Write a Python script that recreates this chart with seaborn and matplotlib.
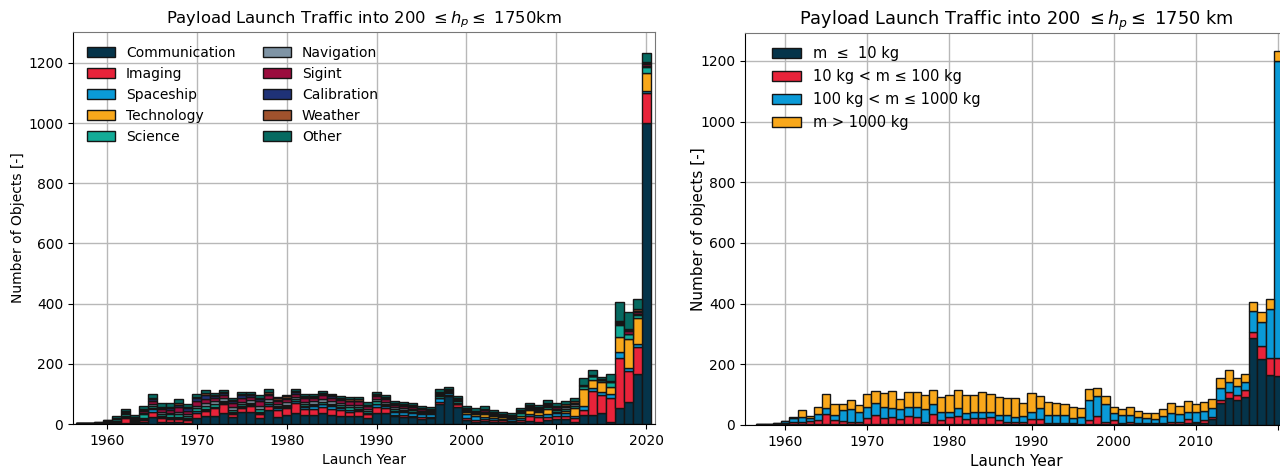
import matplotlib
matplotlib.use("Agg")
import matplotlib.pyplot as plt
import pandas as pd
import seaborn as sns
from matplotlib.patches import Patch

years = list(range(1957, 2021))

mission_names = ["Communication", "Imaging", "Spaceship", "Technology", "Science",
                 "Navigation", "Sigint", "Calibration", "Weather", "Other"]
mission_colors = ["#05344a", "#e8233a", "#0a9ad7", "#f9a81b", "#12ab97",
                  "#7f94a5", "#9b0d3e", "#1f3277", "#a0522d", "#066a61"]

communication = [0, 0, 0, 2, 2, 4, 3, 6, 24, 8,
                 6, 6, 4, 19, 27, 28, 36, 22, 39, 41,
                 19, 47, 24, 30, 36, 30, 30, 35, 30, 28,
                 25, 28, 20, 38, 38, 25, 24, 22, 18, 20,
                 65, 92, 55, 12, 8, 10, 8, 6, 6, 8,
                 10, 8, 12, 15, 16, 8, 30, 30, 35, 8,
                 54, 74, 165, 1001]
imaging = [0, 0, 1, 2, 4, 16, 4, 8, 17, 12,
           9, 10, 10, 19, 17, 24, 30, 10, 13, 19,
           14, 13, 22, 22, 33, 20, 20, 20, 20, 18,
           15, 14, 12, 18, 14, 6, 6, 5, 5, 3,
           9, 4, 10, 8, 4, 8, 6, 6, 5, 6,
           15, 15, 12, 10, 10, 12, 17, 80, 63, 80,
           166, 103, 92, 100]
spaceship = [0, 0, 0, 1, 2, 3, 2, 3, 8, 4,
             5, 4, 4, 4, 4, 4, 4, 6, 5, 4,
             5, 5, 7, 5, 6, 8, 10, 10, 10, 8,
             6, 5, 4, 10, 8, 10, 10, 10, 10, 10,
             11, 8, 3, 12, 15, 6, 5, 5, 4, 5,
             8, 8, 10, 10, 10, 8, 12, 10, 10, 12,
             18, 10, 8, 7]
technology = [1, 1, 1, 2, 3, 4, 3, 3, 3, 2,
              3, 3, 2, 2, 3, 2, 2, 2, 2, 2,
              2, 3, 2, 2, 2, 2, 2, 2, 2, 2,
              2, 2, 2, 2, 2, 2, 2, 4, 2, 2,
              2, 2, 2, 8, 5, 8, 7, 5, 4, 6,
              12, 8, 15, 6, 8, 25, 58, 27, 30, 24,
              52, 97, 86, 58]
science = [1, 2, 2, 2, 4, 6, 4, 12, 8, 7,
           9, 10, 8, 9, 10, 9, 6, 7, 7, 5,
           10, 6, 5, 5, 6, 5, 5, 6, 6, 6,
           7, 6, 5, 7, 6, 6, 5, 5, 4, 4,
           6, 3, 6, 4, 3, 6, 4, 3, 3, 12,
           6, 5, 6, 5, 7, 8, 10, 12, 7, 16,
           38, 14, 11, 22]
navigation = [0, 0, 0, 1, 2, 3, 3, 5, 8, 6,
              6, 8, 6, 8, 8, 8, 7, 8, 8, 8,
              10, 8, 6, 8, 8, 8, 8, 10, 8, 8,
              8, 8, 6, 7, 6, 6, 6, 5, 5, 4,
              3, 2, 3, 2, 2, 3, 2, 2, 2, 2,
              3, 3, 4, 4, 4, 4, 0, 0, 0, 0,
              3, 2, 3, 2]
sigint = [0, 0, 0, 1, 2, 4, 3, 6, 10, 10,
          10, 14, 10, 14, 15, 12, 12, 14, 14, 12,
          15, 13, 11, 12, 10, 12, 11, 12, 12, 11,
          12, 12, 10, 10, 10, 9, 8, 7, 6, 5,
          5, 3, 4, 3, 3, 4, 3, 3, 3, 3,
          4, 4, 5, 5, 5, 5, 2, 2, 2, 2,
          6, 10, 8, 8]
calibration = [0, 0, 0, 0, 1, 1, 1, 4, 4, 3,
               4, 8, 8, 10, 12, 6, 6, 6, 7, 6,
               8, 6, 4, 4, 4, 4, 4, 4, 4, 3,
               3, 3, 2, 3, 2, 2, 2, 2, 1, 1,
               2, 1, 1, 1, 1, 1, 1, 1, 1, 1,
               1, 1, 1, 1, 1, 1, 0, 0, 0, 0,
               2, 3, 3, 2]
weather = [0, 0, 1, 1, 1, 2, 1, 3, 6, 5,
           6, 6, 5, 6, 6, 4, 4, 5, 5, 4,
           5, 6, 4, 4, 4, 4, 4, 4, 4, 4,
           4, 4, 3, 4, 4, 4, 4, 3, 3, 2,
           4, 3, 3, 3, 3, 4, 3, 2, 2, 2,
           3, 3, 4, 4, 4, 4, 0, 1, 1, 1,
           2, 2, 5, 3]
other = [0, 0, 0, 2, 4, 7, 6, 10, 13, 12,
         11, 13, 9, 10, 11, 7, 6, 7, 8, 7,
         10, 8, 6, 6, 6, 7, 6, 6, 5, 5,
         8, 8, 8, 6, 7, 7, 7, 6, 5, 5,
         11, 5, 7, 7, 9, 10, 8, 8, 8, 8,
         9, 9, 11, 9, 12, 11, 25, 19, 8, 24,
         63, 57, 35, 29]

mass_names = ["m  ≤  10 kg", "10 kg < m ≤ 100 kg",
              "100 kg < m ≤ 1000 kg", "m > 1000 kg"]
mass_colors = ["#05344a", "#e8233a", "#0a9ad7", "#f9a81b"]

mass_tiny = [1, 1, 1, 3, 4, 3, 4, 3, 3, 3,
             3, 3, 3, 4, 4, 4, 4, 3, 4, 4,
             3, 4, 3, 4, 4, 3, 3, 3, 3, 3,
             3, 3, 2, 2, 2, 2, 2, 2, 2, 2,
             3, 3, 2, 4, 3, 3, 3, 3, 2, 3,
             4, 4, 6, 6, 8, 20, 72, 88, 83, 91,
             286, 217, 165, 160]
mass_small = [1, 1, 2, 4, 6, 8, 8, 15, 33, 14,
              10, 8, 8, 18, 29, 18, 24, 17, 27, 24,
              8, 32, 14, 24, 27, 16, 19, 19, 22, 14,
              8, 8, 9, 17, 17, 6, 6, 4, 6, 2,
              14, 28, 9, 13, 5, 8, 5, 5, 3, 5,
              7, 7, 13, 5, 9, 8, 11, 22, 16, 25,
              22, 42, 56, 60]
mass_medium = [0, 1, 2, 7, 12, 14, 10, 17, 19, 16,
               37, 41, 33, 36, 39, 38, 27, 34, 29, 32,
               42, 32, 25, 14, 24, 19, 22, 22, 19, 16,
               22, 17, 19, 25, 36, 25, 25, 27, 14, 21,
               66, 66, 57, 22, 25, 22, 17, 14, 14, 22,
               30, 24, 25, 33, 30, 27, 38, 33, 28, 25,
               69, 80, 160, 980]
mass_large = [0, 0, 0, 0, 3, 25, 8, 25, 46, 36,
              19, 30, 22, 43, 41, 44, 58, 33, 48, 48,
              45, 47, 49, 56, 60, 62, 56, 65, 57, 60,
              57, 62, 42, 61, 42, 44, 41, 36, 37, 31,
              35, 26, 26, 21, 20, 27, 22, 19, 19, 23,
              30, 29, 36, 25, 30, 31, 33, 38, 29, 26,
              27, 33, 35, 32]

xtick_years = [1960, 1970, 1980, 1990, 2000, 2010, 2020]
ytick_vals = [0, 200, 400, 600, 800, 1000, 1200]


def long_df(names, series):
    rows = []
    for name, vals in zip(names, series):
        for y, v in zip(years, vals):
            rows.append({"year": y, "cat": name, "n": v})
    return pd.DataFrame(rows)


df_mission = long_df(mission_names, [communication, imaging, spaceship, technology, science,
                                     navigation, sigint, calibration, weather, other])
df_mass = long_df(mass_names, [mass_tiny, mass_small, mass_medium, mass_large])

plt.rcParams["font.family"] = ["DejaVu Sans"]
plt.rcParams["font.size"] = 10

fig = plt.figure(figsize=(12.8, 4.71), dpi=100)
ax1 = fig.add_axes([73 / 1280, 47 / 471, 582 / 1280, 392 / 471])
ax2 = fig.add_axes([745 / 1280, 46 / 471, 542 / 1280, 392 / 471])

edge = "#151515"

for ax, df, names, colors in [(ax1, df_mission, mission_names, mission_colors),
                              (ax2, df_mass, mass_names, mass_colors)]:
    ax.set_axisbelow(True)
    ax.grid(True, color="#b8b8b8", linewidth=1.0)
    sns.histplot(data=df, x="year", weights="n", hue="cat",
                 hue_order=names[::-1], palette=dict(zip(names, colors)),
                 multiple="stack", discrete=True, shrink=1.0,
                 edgecolor=edge, linewidth=1.0, alpha=1.0,
                 legend=False, ax=ax)
    ax.set_xticks(xtick_years)
    ax.set_yticks(ytick_vals)
    ax.tick_params(labelsize=10)
    ax.spines["top"].set_color("#777777")
    ax.spines["right"].set_color("#777777")

handles1 = [Patch(facecolor=c, edgecolor=edge, linewidth=1.0) for c in mission_colors]
ax1.legend(handles1, mission_names, ncol=2, loc="upper left", frameon=False,
           fontsize=10, borderaxespad=0.6)
handles2 = [Patch(facecolor=c, edgecolor=edge, linewidth=1.0) for c in mass_colors]
ax2.legend(handles2, mass_names, loc="upper left", frameon=False, fontsize=10.5,
           bbox_to_anchor=(0.026, 1.0), labelspacing=0.55, handlelength=2.0)

ax1.set_xlim(1956.2, 2021.0)
ax1.set_ylim(0, 1303)
ax1.set_xlabel("Launch Year", fontsize=10)
ax1.set_ylabel("Number of Objects [-]", fontsize=10, labelpad=2)
ax1.set_title("Payload Launch Traffic into 200 $\\leq h_p \\leq$ 1750km", fontsize=11.8)

ax2.set_xlim(1955.1, 2021.1)
ax2.set_ylim(0, 1292)
ax2.set_xticklabels(["1960", "1970", "1980", "1990", "2000", "2010", ""])
ax2.set_xlabel("Launch Year", fontsize=11)
ax2.set_ylabel("Number of objects [-]", fontsize=11, labelpad=-4)
ax2.set_title("Payload Launch Traffic into 200 $\\leq h_p \\leq$ 1750 km", fontsize=12.8)

fig.savefig("out.png", dpi=100)
